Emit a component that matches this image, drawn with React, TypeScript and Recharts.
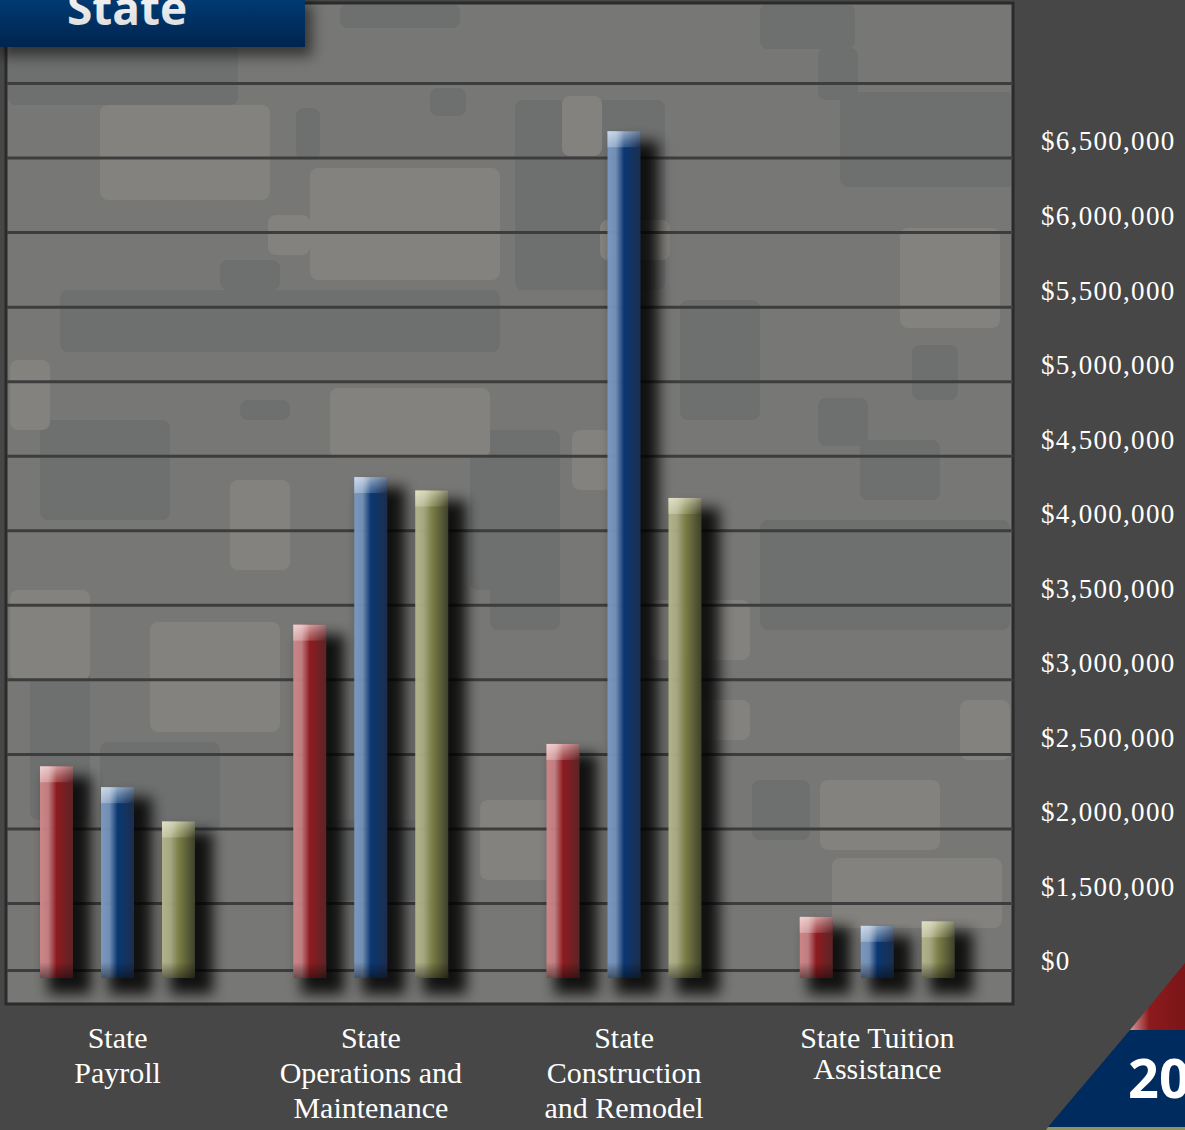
import { Bar, BarChart, CartesianGrid, XAxis, YAxis } from "recharts";

// categories along the bottom (line breaks as printed)
const categories = [
  "State\nPayroll",
  "State\nOperations and\nMaintenance",
  "State\nConstruction\nand Remodel",
  "State Tuition\nAssistance",
];

// three series per category: red, blue, olive (no legend in the picture)
const redValues = [1420000, 2370000, 1570000, 410000];
const blueValues = [1280000, 3360000, 5680000, 350000];
const oliveValues = [1050000, 3270000, 3220000, 380000];

// axis ticks and the labels printed next to them (the picture skips $500k / $1M)
const yTicks = [0, 500000, 1000000, 1500000, 2000000, 2500000, 3000000, 3500000, 4000000, 4500000, 5000000, 5500000];
const yTickLabels = [
  "$0",
  "$1,500,000",
  "$2,000,000",
  "$2,500,000",
  "$3,000,000",
  "$3,500,000",
  "$4,000,000",
  "$4,500,000",
  "$5,000,000",
  "$5,500,000",
  "$6,000,000",
  "$6,500,000",
];
const gridValues = [50000, 500000, 1000000, 1500000, 2000000, 2500000, 3000000, 3500000, 4000000, 4500000, 5000000, 5500000, 6000000];

const chartData = categories.map((category, i) => ({
  category,
  red: redValues[i],
  blue: blueValues[i],
  olive: oliveValues[i],
}));

const tones: Record<string, { light: string; mid: string; dark: string; cap: string }> = {
  red: { light: "#cc8487", mid: "#8e1b20", dark: "#5b2426", cap: "#f2d6d6" },
  blue: { light: "#7896bf", mid: "#0a3873", dark: "#1c2e4c", cap: "#d2deec" },
  olive: { light: "#b0b289", mid: "#7b7f47", dark: "#3f412b", cap: "#e2e2c8" },
};

const serif = "'Liberation Serif', 'Times New Roman', serif";

// background camouflage blocks (decoration only)
const camoDark = [
  [8, 45, 230, 60], [160, 112, 72, 42], [296, 108, 24, 52], [340, 4, 120, 24], [430, 88, 36, 28],
  [515, 100, 150, 190], [760, 4, 95, 45], [818, 48, 40, 52], [840, 92, 175, 95], [60, 290, 440, 62],
  [40, 420, 130, 100], [470, 430, 90, 160], [490, 565, 70, 65], [760, 520, 250, 110], [912, 345, 46, 55],
  [818, 398, 50, 48], [100, 742, 120, 90], [30, 660, 60, 160], [752, 780, 58, 60], [860, 440, 80, 60],
  [240, 400, 50, 20], [220, 260, 60, 30], [680, 300, 80, 120], [300, 820, 120, 80],
];
const camoLight = [
  [100, 105, 170, 95], [310, 168, 190, 112], [562, 96, 40, 60], [600, 220, 70, 40], [330, 388, 160, 70],
  [268, 215, 42, 40], [572, 430, 40, 60], [650, 600, 100, 60], [700, 700, 50, 40], [10, 590, 80, 90],
  [150, 622, 130, 110], [480, 800, 100, 80], [832, 858, 170, 70], [900, 228, 100, 100], [820, 780, 120, 70],
  [10, 360, 40, 70], [230, 480, 60, 90], [960, 700, 50, 60],
];

function GlossyBar(props: any) {
  const { x, y, width, height, tone } = props;
  if (!height || height <= 0) return null;
  const cap = Math.min(16, height / 3);
  return (
    <g>
      <rect x={x + 8} y={y + 10} width={width + 10} height={height + 6} fill="#000" opacity={0.85} filter="url(#barShadow)" />
      <rect x={x} y={y} width={width} height={height} fill={`url(#body-${tone})`} />
      <rect x={x} y={y} width={width} height={cap} fill={`url(#cap-${tone})`} />
      <rect x={x} y={y + height - cap} width={width} height={cap} fill="url(#foot)" />
    </g>
  );
}

function CategoryTick(props: any) {
  const { x, y, payload } = props;
  const lines = String(payload.value).split("\n");
  const tight = lines.length === 2 && lines[0].length > 8;
  return (
    <text x={x} y={y} textAnchor="middle" fill="#ffffff" fontFamily={serif} fontSize={30}>
      {lines.map((line, i) => (
        <tspan key={i} x={x} dy={i === 0 ? 62 : tight ? 31 : 35}>
          {line}
        </tspan>
      ))}
    </text>
  );
}

function MoneyTick(props: any) {
  const { x, y, index } = props;
  return (
    <text x={x} y={y - 17} dy="0.35em" textAnchor="start" fill="#ffffff" fontFamily={serif} fontSize={27} letterSpacing={1.3}>
      {yTickLabels[index]}
    </text>
  );
}

export default function App() {
  return (
    <div style={{ position: "absolute", left: 0, top: 0, width: 1185, height: 1130, background: "#474747", overflow: "hidden" }}>
      {/* framed camo panel */}
      <svg width={1185} height={1130} style={{ position: "absolute", left: 0, top: 0 }}>
        <defs>
          <clipPath id="panelClip">
            <rect x={8} y={5} width={1003} height={997} />
          </clipPath>
        </defs>
        <rect x={6} y={3} width={1007} height={1001} fill="#777775" stroke="#2a2b2a" strokeWidth={3} />
        <g clipPath="url(#panelClip)">
          {camoDark.map(([px, py, w, h], i) => (
            <rect key={`d${i}`} x={px} y={py} width={w} height={h} rx={8} fill="#6e706f" />
          ))}
          {camoLight.map(([px, py, w, h], i) => (
            <rect key={`l${i}`} x={px} y={py} width={w} height={h} rx={8} fill="#84827e" />
          ))}
        </g>
      </svg>

      <div style={{ position: "absolute", left: 0, top: 0 }}>
        <BarChart
          width={1185}
          height={1130}
          data={chartData}
          margin={{ top: 3, right: 0, bottom: 0, left: 7 }}
          barSize={33}
          barGap={28}
        >
          <defs>
            <filter id="barShadow" x="-80%" y="-20%" width="260%" height="140%">
              <feGaussianBlur stdDeviation={7} />
            </filter>
            {Object.entries(tones).map(([name, t]) => (
              <linearGradient key={`b${name}`} id={`body-${name}`} x1="0" y1="0" x2="1" y2="0">
                <stop offset="0%" stopColor={t.light} />
                <stop offset="25%" stopColor={t.light} stopOpacity={0.9} />
                <stop offset="50%" stopColor={t.mid} />
                <stop offset="100%" stopColor={t.dark} />
              </linearGradient>
            ))}
            {Object.entries(tones).map(([name, t]) => (
              <linearGradient key={`c${name}`} id={`cap-${name}`} x1="0" y1="0" x2="1" y2="1">
                <stop offset="0%" stopColor={t.cap} stopOpacity={0.95} />
                <stop offset="60%" stopColor={t.cap} stopOpacity={0.35} />
                <stop offset="100%" stopColor={t.cap} stopOpacity={0} />
              </linearGradient>
            ))}
            <linearGradient id="foot" x1="0" y1="0" x2="0" y2="1">
              <stop offset="0%" stopColor="#000" stopOpacity={0} />
              <stop offset="100%" stopColor="#000" stopOpacity={0.45} />
            </linearGradient>
          </defs>
          <CartesianGrid vertical={false} horizontalValues={gridValues} stroke="#3c3d3c" strokeWidth={3} />
          <XAxis
            dataKey="category"
            type="category"
            padding={{ left: -16, right: 9 }}
            height={152}
            axisLine={false}
            tickLine={false}
            interval={0}
            tick={<CategoryTick />}
          />
          <YAxis
            orientation="right"
            type="number"
            domain={[0, 6540000]}
            ticks={yTicks}
            interval={0}
            width={172}
            axisLine={false}
            tickLine={false}
            tickMargin={22}
            tick={<MoneyTick />}
          />
          <Bar dataKey="red" isAnimationActive={false} shape={(p: any) => <GlossyBar {...p} tone="red" />} />
          <Bar dataKey="blue" isAnimationActive={false} shape={(p: any) => <GlossyBar {...p} tone="blue" />} />
          <Bar dataKey="olive" isAnimationActive={false} shape={(p: any) => <GlossyBar {...p} tone="olive" />} />
        </BarChart>
      </div>

      {/* title banner and corner ornament */}
      <svg width={1185} height={1130} style={{ position: "absolute", left: 0, top: 0, pointerEvents: "none" }}>
        <defs>
          <linearGradient id="banner" x1="0" y1="0" x2="0" y2="1">
            <stop offset="0%" stopColor="#003a72" />
            <stop offset="100%" stopColor="#00244f" />
          </linearGradient>
          <linearGradient id="titleText" x1="0" y1="0" x2="0" y2="1">
            <stop offset="0%" stopColor="#ffffff" />
            <stop offset="100%" stopColor="#d8d8d8" />
          </linearGradient>
          <linearGradient id="cornerRed" x1="0" y1="0" x2="1" y2="0">
            <stop offset="0%" stopColor="#d99a9a" />
            <stop offset="35%" stopColor="#8c1a1c" />
            <stop offset="100%" stopColor="#7a1518" />
          </linearGradient>
          <filter id="bannerShadow" x="-10%" y="-50%" width="130%" height="250%">
            <feGaussianBlur stdDeviation={7} />
          </filter>
        </defs>
        <rect x={0} y={4} width={312} height={52} fill="#000" opacity={0.55} filter="url(#bannerShadow)" />
        <rect x={0} y={0} width={305} height={47} fill="url(#banner)" />
        <text x={127} y={25} textAnchor="middle" fontFamily="'Open Sans', sans-serif" fontWeight={700} fontSize={46} fill="url(#titleText)">
          State
        </text>
        <polygon points="1130,1030 1185,963 1185,1030" fill="url(#cornerRed)" />
        <polygon points="1130,1030 1185,1030 1185,1127 1048,1127" fill="#002b5e" />
        <polygon points="1048,1127 1185,1127 1185,1130 1046,1130" fill="#8d9460" />
        <text x={1128} y={1098} fontFamily="'Open Sans', sans-serif" fontWeight={700} fontSize={54} fill="#ffffff">
          20
        </text>
      </svg>
    </div>
  );
}
